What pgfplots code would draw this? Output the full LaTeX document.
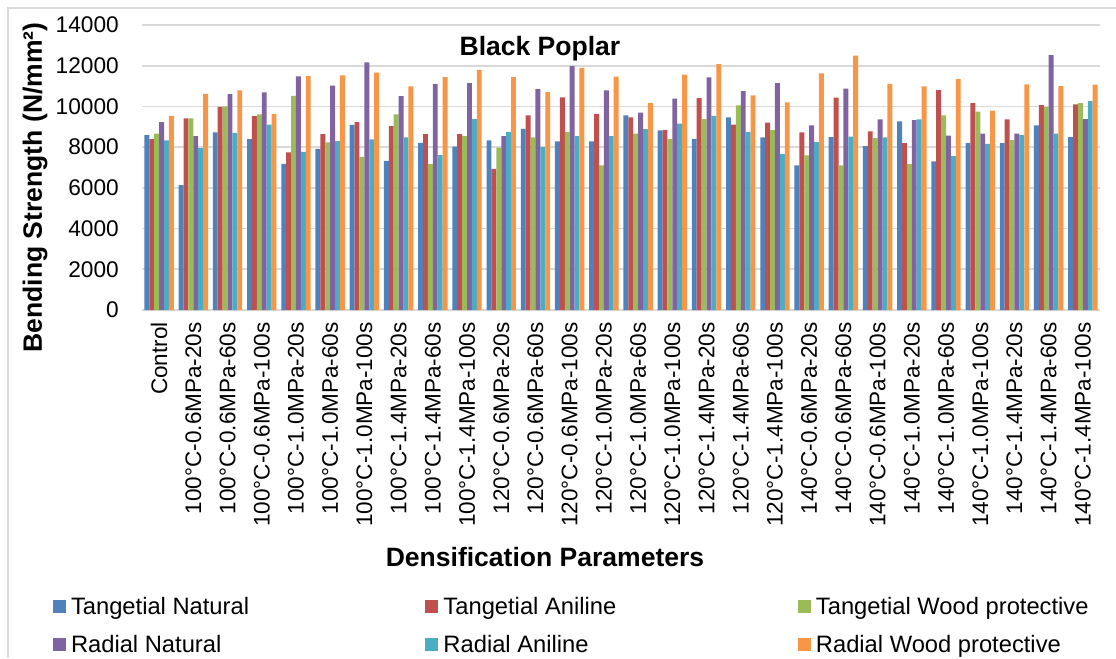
\documentclass[border=0pt]{standalone}
\usepackage{fontspec}
\setmainfont{Liberation Sans}
\usepackage{pgfplots}
\pgfplotsset{compat=1.18}
\usepackage{pgfplotstable}
\definecolor{cTN}{HTML}{4F81BD}
\definecolor{cTA}{HTML}{C0504D}
\definecolor{cTW}{HTML}{9BBB59}
\definecolor{cRN}{HTML}{8064A2}
\definecolor{cRA}{HTML}{4BACC6}
\definecolor{cRW}{HTML}{F79646}
\definecolor{gridgray}{HTML}{D9D9D9}

\pgfplotstableread{
x TN TA TW RN RA RW
0 8590 8390 8670 9230 8330 9540
1 6130 9410 9410 8540 7950 10620
2 8720 9980 10000 10610 8700 10790
3 8390 9520 9610 10690 9110 9620
4 7180 7740 10520 11480 7770 11490
5 7920 8640 8230 11020 8300 11520
6 9100 9230 7520 12160 8380 11660
7 7330 9030 9610 10510 8480 10980
8 8210 8640 7160 11100 7610 11440
9 8020 8640 8540 11150 9380 11790
10 8330 6930 7980 8540 8740 11440
11 8900 9560 8480 10850 8000 10700
12 8280 10440 8740 11980 8540 11900
13 8280 9640 7100 10790 8540 11470
14 9560 9460 8670 9700 8890 10160
15 8820 8840 8390 10380 9160 11560
16 8410 10410 9380 11430 9540 12080
17 9460 9110 10050 10750 8740 10540
18 8480 9210 8840 11150 7660 10200
19 7110 8720 7590 9070 8250 11620
20 8490 10430 7100 10870 8520 12490
21 8050 8770 8440 9360 8480 11110
22 9260 8200 7160 9330 9360 10980
23 7300 10800 9560 8560 7560 11340
24 8200 10160 9740 8670 8160 9800
25 8200 9360 8340 8660 8590 11080
26 9070 10070 9980 12520 8660 11000
27 8490 10100 10160 9380 10260 11070
}\datatable

\pgfplotsset{
  mylegend/.style={legend image code/.code={\fill[##1] (0pt,-3.5pt) rectangle (9.75pt,6.25pt);}},
}

\begin{document}
\begin{tikzpicture}
\useasboundingbox (0pt,0pt) rectangle (837pt,493.5pt);
\draw[color=gridgray, line width=0.9pt] (6pt,0pt) -- (6pt,487.5pt) -- (837pt,487.5pt);
\begin{axis}[
  at={(106.5pt,261pt)}, anchor=south west,
  scale only axis, width=718.5pt, height=213.75pt,
  ybar=0pt, bar width=3.675pt,
  xmin=-0.5, xmax=27.5, ymin=0, ymax=14000,
  xtick={0,1,...,27},
  xticklabels={Control,100°C-0.6MPa-20s,100°C-0.6MPa-60s,100°C-0.6MPa-100s,100°C-1.0MPa-20s,100°C-1.0MPa-60s,100°C-1.0MPa-100s,100°C-1.4MPa-20s,100°C-1.4MPa-60s,100°C-1.4MPa-100s,120°C-0.6MPa-20s,120°C-0.6MPa-60s,120°C-0.6MPa-100s,120°C-1.0MPa-20s,120°C-1.0MPa-60s,120°C-1.0MPa-100s,120°C-1.4MPa-20s,120°C-1.4MPa-60s,120°C-1.4MPa-100s,140°C-0.6MPa-20s,140°C-0.6MPa-60s,140°C-0.6MPa-100s,140°C-1.0MPa-20s,140°C-1.0MPa-60s,140°C-1.0MPa-100s,140°C-1.4MPa-20s,140°C-1.4MPa-60s,140°C-1.4MPa-100s},
  ytick={0,2000,...,14000},
  scaled y ticks=false,
  /pgf/number format/1000 sep={},
  /pgf/number format/assume math mode=true,
  axis x line*=bottom, axis y line*=left,
  x axis line style={draw=gridgray, line width=1.2pt},
  y axis line style={draw=none},
  major tick length=0pt,
  ymajorgrids, grid style={draw=gridgray, line width=1.2pt},
  yticklabel style={anchor=east, inner sep=0pt, font=\fontsize{17}{20}\selectfont},
  yticklabel shift=17.25pt,
  xticklabel style={rotate=90, anchor=east, inner sep=0pt, font=\fontsize{16.9}{20}\selectfont},
  xticklabel shift=9pt,
  title={Black Poplar},
  title style={at={(rel axis cs:0.4154,0.865)}, anchor=base, inner sep=0pt, font=\bfseries\fontsize{19.9}{22}\selectfont},
  xlabel={Densification Parameters},
  xlabel style={at={(rel axis cs:0.4207,-0.9)}, anchor=base, inner sep=0pt, font=\bfseries\fontsize{19.9}{22}\selectfont},
  ylabel={Bending Strength (N/mm²)},
  ylabel style={at={(rel axis cs:-0.1044,0.4298)}, anchor=base, inner sep=0pt, font=\bfseries\fontsize{19.9}{22}\selectfont},
  legend columns=3,
  legend cell align=left,
  legend style={at={(rel axis cs:-0.0929,-1.006)}, anchor=north west, draw=none, fill=none,
    inner sep=0pt, outer sep=0pt, row sep=11.5pt, column sep=0pt,
    font=\fontsize{17.8}{20}\selectfont,
    nodes={inner sep=0pt, text height=13pt, text depth=4pt}},
]
\addplot[fill=cTN, draw=none, mylegend] table[x=x, y=TN] {\datatable};
\addlegendentry{\makebox[269.6pt][l]{\hspace{3.75pt}Tangetial Natural}}
\addplot[fill=cTA, draw=none, mylegend] table[x=x, y=TA] {\datatable};
\addlegendentry{\makebox[269.6pt][l]{\hspace{3.75pt}Tangetial Aniline}}
\addplot[fill=cTW, draw=none, mylegend] table[x=x, y=TW] {\datatable};
\addlegendentry{\hspace{3.75pt}Tangetial Wood protective}
\addplot[fill=cRN, draw=none, mylegend] table[x=x, y=RN] {\datatable};
\addlegendentry{\makebox[269.6pt][l]{\hspace{3.75pt}Radial Natural}}
\addplot[fill=cRA, draw=none, mylegend] table[x=x, y=RA] {\datatable};
\addlegendentry{\makebox[269.6pt][l]{\hspace{3.75pt}Radial Aniline}}
\addplot[fill=cRW, draw=none, mylegend] table[x=x, y=RW] {\datatable};
\addlegendentry{\hspace{3.75pt}Radial Wood protective}
\end{axis}
\end{tikzpicture}
\end{document}
